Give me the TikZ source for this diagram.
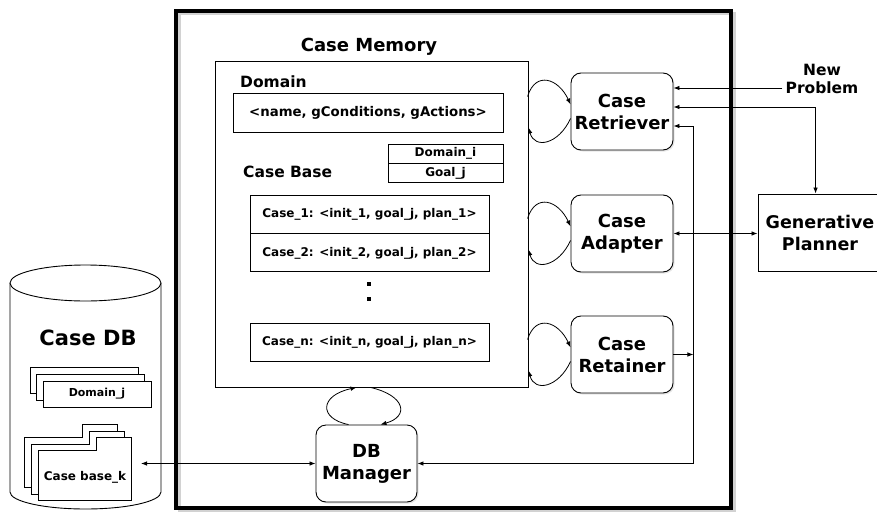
\documentclass[tikz,border=0pt]{standalone}
\usepackage{fontspec}
\setmainfont{DejaVu Sans}
\usepackage{tikz}
\usetikzlibrary{arrows.meta, positioning, calc, shadows}

\begin{document}
\begin{tikzpicture}[x=1pt, y=-1pt,
  box/.style={draw, line width=0.9pt, fill=white, inner sep=0pt},
  module/.style={box, rounded corners=10pt, minimum width=102pt, minimum height=77pt,
    align=center, font=\bfseries\fontsize{18}{22}\selectfont,
    drop shadow={opacity=0.2, shadow xshift=1.5pt, shadow yshift=-1.5pt}},
  caserow/.style={box, minimum width=239pt, minimum height=38pt, font=\bfseries\fontsize{12}{14}\selectfont},
  cell/.style={box, minimum width=115pt, minimum height=19pt, font=\bfseries\fontsize{12}{13}\selectfont},
  title/.style={inner sep=0pt, font=\bfseries\fontsize{15.5}{18}\selectfont},
  sheet/.style={box, minimum width=108pt, minimum height=26pt, font=\bfseries\fontsize{11}{12}\selectfont},
  oneway/.style={line width=0.8pt, -{Latex[length=6pt,width=4.5pt]}},
  twoway/.style={line width=0.8pt, {Latex[length=6pt,width=4.5pt]}-{Latex[length=6pt,width=4.5pt]}},
]
  \useasboundingbox (0,0) rectangle (877,511);
  \clip (0,0) rectangle (877,511);

  % outer frame
  \draw[gray!35, line width=3pt] (179,14) rectangle (734,511);
  \draw[line width=3.5pt] (176,11) rectangle (731,508);

  % case memory
  \node[box, minimum width=313pt, minimum height=326pt] (mem) at (371.5,224) {};
  \node[title, font=\bfseries\fontsize{18}{20}\selectfont] (memlbl) at (369,47) {Case Memory};
  \node[title, anchor=west] (domlbl) at (240,82) {Domain};
  \node[box, minimum width=270pt, minimum height=39pt, font=\bfseries\fontsize{13.3}{15}\selectfont] (dom) at (368,112.5) {<name, gConditions, gActions>};
  \node[cell] (domi) at (445.5,153.5) {Domain\_i};
  \node[cell, below=0pt of domi] (goalj) {Goal\_j};
  \node[title, anchor=west] (cblbl) at (243,172) {Case Base};
  \node[caserow] (case1) at (369.5,214) {Case\_1: <init\_1, goal\_j, plan\_1>};
  \node[caserow, below=0pt of case1] (case2) {Case\_2: <init\_2, goal\_j, plan\_2>};
  \node[caserow] (casen) at (369.5,342) {Case\_n: <init\_n, goal\_j, plan\_n>};
  \fill (367,282) rectangle (371,286);
  \fill (367,297) rectangle (371,301);

  % modules
  \node[module] (ret) at (622,111.5) {Case\\Retriever};
  \node[module] (ada) at (622,233.5) {Case\\Adapter};
  \node[module] (rtn) at (622,354.5) {Case\\Retainer};
  \node[module, minimum width=101pt] (dbm) at (366.5,463.5) {DB\\Manager};
  \node[box, minimum width=124pt, minimum height=77pt, align=center,
    font=\bfseries\fontsize{17.5}{22}\selectfont] (gen) at (820,232.5) {Generative\\Planner};
  \node[align=center, inner sep=3pt, font=\bfseries\fontsize{15.5}{18}\selectfont] (newp) at (822,79) {New\\Problem};

  % case DB
  \draw[line width=0.9pt, fill=white] (10,283) -- (10,492)
    arc[start angle=180, end angle=360, x radius=75.5pt, y radius=17pt] -- (161,283);
  \draw[line width=0.9pt, fill=white] (85.5,283) ellipse [x radius=75.5pt, y radius=18pt];
  \node[font=\bfseries\fontsize{21}{24}\selectfont] (cdb) at (88,338) {Case DB};
  \node[sheet] (dj3) at (84,380) {};
  \node[sheet] (dj2) at (90.5,387) {};
  \node[sheet] (dj1) at (97,394) {Domain\_j};
  \foreach \dx/\dy in {0/0, 7/7, 14/13} {
    \draw[line width=0.9pt, fill=white] (24+\dx,437+\dy) -- (82+\dx,437+\dy) -- (82+\dx,424+\dy)
      -- (117+\dx,424+\dy) -- (117+\dx,487+\dy) -- (24+\dx,487+\dy) -- cycle;
  }
  \node[font=\bfseries\fontsize{12}{14}\selectfont] (cbk) at (85,477) {Case base\_k};
  \coordinate (cbkend) at (141,463.5);

  % loops
  \foreach \m in {ret,ada,rtn} {
    \draw[oneway] ($(\m.west)+(-43,-15)$) .. controls +(8,-26) and +(-12,-26) .. ($(\m.west)+(0,-7)$);
    \draw[oneway] ($(\m.west)+(0,7)$) .. controls +(-12,26) and +(6,22) .. ($(\m.west)+(-42,16)$);
  }
  \draw[oneway] ($(dbm.north)+(-18,0)$) .. controls +(-30,-6) and +(-37,8) .. ($(mem.south)+(-15,0)$);
  \draw[oneway] ($(mem.south)+(-1,0)$) .. controls +(35,8) and +(29,-8) .. ($(dbm.north)+(14,0)$);

  % connections
  \draw[oneway] ($(newp.west)+(0,9)$) -- ($(ret.east)+(0,-23.5)$);
  \draw[twoway] ($(ret.east)+(0,-4.5)$) -| ($(gen.north west)+(58,0)$);
  \coordinate (busT) at ($(ret.east)+(20,14.5)$);
  \draw[twoway] ($(ret.east)+(0,14.5)$) -- (busT) |- (dbm.east);
  \draw[oneway] (rtn.east) -- (rtn.east -| busT);
  \draw[twoway] (ada.east) -- (ada.east -| gen.west);
  \draw[twoway] (dbm.west) -- (cbkend);
\end{tikzpicture}
\end{document}
